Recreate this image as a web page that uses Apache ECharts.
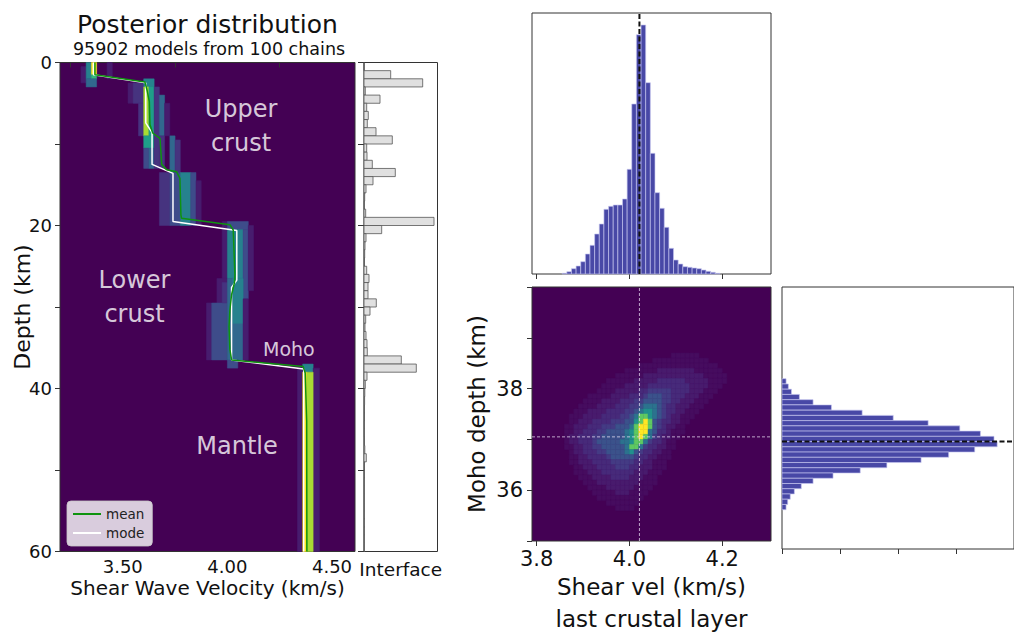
<!DOCTYPE html>
<html><head><meta charset="utf-8">
<script src="https://cdn.jsdelivr.net/npm/echarts@6/dist/echarts.min.js"></script>
<style>html,body{margin:0;padding:0;background:#fff}#chart{width:1014px;height:636px}</style>
</head><body><div id="chart"></div>
<script>
// ================= DATA =================
// Posterior density of shear-wave velocity vs depth, cells:
// [velMin, velMax, depthTop, depthBottom, densityLevel 0-9]
const posteriorCells = [
  [3.300,3.325,0.5,2.5,1],[3.325,3.350,0.0,2.0,5],[3.350,3.375,0.0,1.5,9],[3.350,3.375,1.5,2.0,7],
  [3.325,3.375,2.0,3.0,4],[3.425,3.450,0.0,2.0,1],
  [3.525,3.600,2.5,5.0,1],[3.550,3.600,2.5,5.0,2],[3.575,3.600,5.0,9.0,2],[3.600,3.650,2.0,3.0,5],
  [3.600,3.625,3.0,9.0,8],[3.625,3.650,3.0,9.0,6],[3.600,3.650,9.0,10.5,6],[3.600,3.625,10.5,13.0,3],
  [3.625,3.650,10.5,13.0,4],[3.650,3.675,3.0,13.0,2],[3.675,3.700,4.0,9.0,4],[3.675,3.700,9.0,13.0,2],
  [3.700,3.725,5.0,9.0,1],
  [3.725,3.750,9.0,13.5,4],[3.750,3.775,9.5,13.5,2],[3.675,3.725,13.5,20.0,2],[3.725,3.775,13.5,20.0,3],
  [3.775,3.825,13.5,20.0,5],[3.825,3.850,13.5,20.0,3],[3.850,3.875,14.5,20.0,1],
  [3.975,4.000,19.5,27.0,1],[4.000,4.100,19.5,20.5,3],[4.000,4.075,20.5,26.5,5],[4.075,4.100,20.5,29.0,3],
  [4.100,4.125,20.0,28.0,1],[3.950,4.000,26.5,29.5,1],[3.900,3.925,29.5,36.5,1],[3.925,4.000,29.5,36.5,3],
  [3.975,4.000,27.0,29.5,2],[4.000,4.075,26.5,36.5,4],[4.025,4.075,26.5,32.0,5],[4.075,4.100,29.0,36.5,1],
  [4.000,4.050,36.5,37.5,3],
  [4.360,4.410,37.0,38.0,5],[4.335,4.360,37.5,60.0,1],[4.410,4.440,37.5,60.0,1],
  [4.360,4.380,38.0,60.0,9],[4.380,4.410,38.0,60.0,8]
];
// Mode model (white) and mean model (green)
const modeVel   = [3.36, 3.36, 3.61, 3.61, 3.64, 3.64, 3.74, 3.74, 4.045, 4.045, 4.02, 4.02, 4.365, 4.365];
const modeDepth = [0, 1.5, 2.5, 7.4, 8.6, 12.5, 13.6, 19.5, 20.6, 26.7, 27.6, 36.5, 37.6, 60];
const meanVel   = [3.367, 3.367, 3.606, 3.617, 3.627, 3.630, 3.643, 3.678, 3.686, 3.710, 3.757, 3.773, 3.778, 3.781,
                   4.012, 4.028, 4.036, 4.034, 4.020, 4.012, 4.008, 4.012, 4.020, 4.362, 4.372, 4.379, 4.380];
const meanDepth = [0, 1.5, 2.4, 3.5, 4.8, 7.6, 8.65, 9.3, 12.5, 13.15, 13.4, 14.2, 18.7, 19.1,
                   19.9, 20.55, 26.0, 27.0, 28.5, 30.4, 32.4, 35.2, 36.5, 37.3, 38.1, 44, 60];
// Interface histogram, 1-km depth bins (0-1, 1-2, ... 59-60)
const interfaceCounts = [0, 26.7, 58.7, 1.3, 16, 2.7, 4.3, 3.3, 12, 28.3,
                         2.7, 3, 8.3, 31.3, 9, 2, 0.7, 0.3, 1.7, 70,
                         17.7, 2, 1, 0.7, 0.5, 2.7, 5, 4, 4, 12.3,
                         6, 1.7, 1, 2, 3, 3.3, 37.3, 52.3, 3, 1.3,
                         0.8, 0.6, 0.5, 0.5, 0.4, 0.4, 0.5, 0.8, 2.3, 0.5,
                         0.4, 0.3, 0.3, 0.3, 0.3, 0.3, 0.3, 0.3, 0.3, 0.3];
// Velocity of last crustal layer histogram (bin centres, 0.01 km/s bins)
const velBins = [3.86,3.87,3.88,3.89,3.90,3.91,3.92,3.93,3.94,3.95,3.96,3.97,3.98,3.99,4.00,4.01,4.02,
                 4.03,4.04,4.05,4.06,4.07,4.08,4.09,4.10,4.11,4.12,4.13,4.14,4.15,4.16,4.17,4.18,4.19];
const velCounts = [0.7,2.3,5.3,8,12.3,20,28.7,40,50,64.7,67.7,69,69,75,104.7,170,239.3,
                   249,191.3,120.7,81.3,65.7,46.7,25.7,14,10,7.3,6.7,6,5.3,4,2.7,1.7,0.7];
const velBinWidth = 0.01;
// Moho depth histogram (bin centres, 0.1 km bins)
const mohoBins = [38.2,38.1,38.0,37.9,37.8,37.7,37.6,37.5,37.4,37.3,37.2,37.1,37.0,
                  36.9,36.8,36.7,36.6,36.5,36.4,36.3,36.2,36.1,36.0,35.9,35.8];
const mohoCounts = [4.3,6.7,10,18.3,32.7,52,84.3,117,153.7,187,208.7,223,226.3,
                    202.7,175.3,146.3,110.3,82.3,53.7,32.7,20.3,13,8.7,6,4.3];
const mohoBinHeight = 0.1;
// Reference (dashed) values
const refVel = 4.0215;
const refMoho = 37.05;
// Joint density (velocity vs Moho depth): rows of 0.1 km from 38.7 km downward,
// columns of 0.01 km/s from 3.85 km/s; runs [level, firstColumn, lastColumn]
const jointVelStart = 3.85, jointVelStep = 0.01, jointDepthTop = 38.7, jointDepthStep = 0.1;
const jointRuns = [
 [[1,24,29]],
 [[1,20,31]],
 [[1,17,33]],
 [[1,14,34],[2,21,28]],
 [[1,12,35],[2,18,30]],
 [[1,10,35],[2,16,31],[3,21,26]],
 [[1,9,34],[2,14,31],[3,19,27]],
 [[1,8,33],[2,12,30],[3,17,27],[4,19,23]],
 [[1,6,32],[2,11,29],[3,15,26],[4,18,23],[5,19,21]],
 [[1,5,31],[2,9,28],[3,13,25],[4,16,23],[5,18,21]],
 [[1,4,30],[2,8,27],[3,12,24],[4,15,22],[5,17,21],[6,18,20]],
 [[1,3,29],[2,6,26],[3,10,24],[4,14,22],[5,16,21],[6,17,20],[7,18,19]],
 [[1,2,28],[2,5,25],[3,9,23],[4,13,22],[5,15,21],[6,16,20],[7,17,19],[8,17,18]],
 [[1,2,27],[2,4,25],[3,7,23],[4,11,21],[5,14,20],[6,16,19],[7,16,19],[8,17,19],[9,18,18]],
 [[1,1,26],[2,3,24],[3,6,22],[4,9,21],[5,12,20],[6,15,19],[7,16,19],[8,16,19],[9,17,18]],
 [[1,1,26],[2,3,23],[3,5,22],[4,8,20],[5,10,20],[6,14,19],[7,15,18],[8,16,18],[9,17,18]],
 [[1,1,25],[2,2,23],[3,4,21],[4,7,20],[5,9,19],[6,14,19],[7,15,18],[8,16,18],[9,17,17]],
 [[1,1,24],[2,2,22],[3,4,21],[4,7,19],[5,8,18],[6,13,18],[7,15,17],[8,16,17]],
 [[1,1,24],[2,3,22],[3,5,20],[4,7,18],[5,9,17],[6,14,17],[7,15,16],[8,15,16]],
 [[1,2,23],[2,3,21],[3,5,19],[4,8,17],[5,10,16],[6,14,15],[7,15,15]],
 [[1,2,23],[2,4,20],[3,6,18],[4,10,16],[5,11,15]],
 [[1,2,22],[2,4,19],[3,7,17],[4,11,15]],
 [[1,3,22],[2,5,19],[3,8,16],[4,12,14]],
 [[1,3,21],[2,6,18],[3,9,15]],
 [[1,4,20],[2,7,17],[3,11,14]],
 [[1,5,20],[2,8,16]],
 [[1,6,19],[2,10,15]],
 [[1,7,18],[2,12,14]],
 [[1,8,17]],
 [[1,10,16]],
 [[1,12,15]]
];
// Tick labels
const velTickLabels = [3.5, 4.0, 4.5];
const velMinorTicks = [3.25, 3.75, 4.25];
const jointVelTicks = [3.8, 4.0, 4.2];

// ================= BUILD =================
const FONT = 'DejaVu Sans';
const palette = ['#440154','#471c6e','#46337f','#3e4c8a','#31688e','#26828e','#1f9e89','#35b779','#a8db34','#fde725'];
const jointPalette = ['#440154','#460c5f','#481b6d','#472a7a','#443b84','#3b528b','#2c728e','#21918c','#5ec962','#fde725'];

const jointCells = [];
jointRuns.forEach((runs, i) => {
  const row = {};
  runs.forEach(([lvl, a, b]) => { for (let j = a; j <= b; j++) row[j] = lvl; });
  Object.keys(row).forEach(k => {
    const j = +k;
    const v0 = jointVelStart + j * jointVelStep;
    const d0 = jointDepthTop - i * jointDepthStep;
    jointCells.push([v0, v0 + jointVelStep, d0, d0 - jointDepthStep, row[k]]);
  });
});

function rectShape(a, b) {
  return { x: Math.min(a[0], b[0]), y: Math.min(a[1], b[1]), width: Math.abs(b[0] - a[0]), height: Math.abs(b[1] - a[1]) };
}
function makeCellItem(pal) {
  return function (params, api) {
    const a = api.coord([api.value(0), api.value(2)]);
    const b = api.coord([api.value(1), api.value(3)]);
    const c = pal[api.value(4)];
    return { type: 'rect', shape: rectShape(a, b), style: { fill: c, stroke: c, lineWidth: 0.5 } };
  };
}
const histFill = '#4848a6', histEdge = 'rgba(200,200,240,0.9)';

const tickStyle = { lineStyle: { color: '#333', width: 1 } };
const noAxis = { axisLine: { show: false }, axisTick: { show: false }, axisLabel: { show: false }, splitLine: { show: false } };

const option = {
  animation: false,
  backgroundColor: '#ffffff',
  textStyle: { fontFamily: FONT },
  graphic: [
    { type: 'text', x: 207.5, y: 24, style: { text: 'Posterior distribution', fontFamily: FONT, fontSize: 25, fill: '#111', align: 'center', verticalAlign: 'middle' } },
    { type: 'text', x: 209, y: 48.5, style: { text: '95902 models from 100 chains', fontFamily: FONT, fontSize: 17.5, fill: '#111', align: 'center', verticalAlign: 'middle' } }
  ],
  legend: {
    data: ['mean', 'mode'], left: 67, top: 501, orient: 'vertical',
    backgroundColor: 'rgba(255,255,255,0.8)', borderColor: 'rgba(200,200,200,0.8)', borderWidth: 1, borderRadius: 4,
    padding: [6, 8, 6, 6], itemGap: 5, itemWidth: 28, itemHeight: 2, itemTextGap: 9, icon: 'rect',
    textStyle: { fontFamily: FONT, fontSize: 13.5, color: '#222' }, selectedMode: false
  },
  grid: [
    { left: 60, top: 62.5, width: 295, height: 489, show: true, backgroundColor: '#440154', borderColor: '#333', borderWidth: 1 },
    { left: 364, top: 62.5, width: 73.5, height: 489, show: true, backgroundColor: '#fff', borderColor: '#333', borderWidth: 1 },
    { left: 532, top: 13, width: 239, height: 261, show: true, backgroundColor: '#fff', borderColor: '#333', borderWidth: 1 },
    { left: 532, top: 287, width: 239, height: 261, show: true, backgroundColor: '#440154', borderColor: '#333', borderWidth: 1 },
    { left: 782, top: 287, width: 244, height: 262, show: true, backgroundColor: '#fff', borderColor: '#333', borderWidth: 1 }
  ],
  xAxis: [
    { gridIndex: 0, type: 'value', min: 3.2, max: 4.61, axisLine: { show: false }, splitLine: { show: false },
      axisTick: Object.assign({ show: true, length: 5, customValues: velMinorTicks }, tickStyle),
      axisLabel: { customValues: velTickLabels, formatter: v => (+v).toFixed(2), fontSize: 18, color: '#111', margin: 6, fontFamily: FONT },
      name: 'Shear Wave Velocity (km/s)', nameLocation: 'middle', nameGap: 26, nameMoveOverlap: false,
      nameTextStyle: { fontSize: 20, color: '#111', fontFamily: FONT } },
    Object.assign({ gridIndex: 1, type: 'value', min: 0, max: 73.5, name: 'Interface', nameLocation: 'middle', nameGap: 8, nameMoveOverlap: false,
      nameTextStyle: { fontSize: 18.5, color: '#111', fontFamily: FONT } }, noAxis),
    { gridIndex: 2, type: 'value', min: 3.79, max: 4.305, axisLine: { show: false }, splitLine: { show: false },
      axisTick: Object.assign({ show: true, length: 5, customValues: jointVelTicks }, tickStyle), axisLabel: { show: false } },
    { gridIndex: 3, type: 'value', min: 3.79, max: 4.305, axisLine: { show: false }, splitLine: { show: false },
      axisTick: Object.assign({ show: true, length: 5, customValues: jointVelTicks }, tickStyle),
      axisLabel: { customValues: jointVelTicks, formatter: v => (+v).toFixed(1), fontSize: 21, color: '#111', margin: 7, fontFamily: FONT },
      name: 'Shear vel (km/s)\nlast crustal layer', nameLocation: 'middle', nameGap: 30, nameMoveOverlap: false,
      nameTextStyle: { fontSize: 23, lineHeight: 32, color: '#111', fontFamily: FONT } },
    { gridIndex: 4, type: 'value', min: 0, max: 244, interval: 61, axisLine: { show: false }, splitLine: { show: false },
      axisTick: Object.assign({ show: true, length: 5 }, tickStyle), axisLabel: { show: false } }
  ],
  yAxis: [
    { gridIndex: 0, type: 'value', inverse: true, min: 0, max: 60, interval: 10, axisLine: { show: false }, splitLine: { show: false },
      axisTick: Object.assign({ show: true, length: 5 }, tickStyle),
      axisLabel: { formatter: v => (v % 20 === 0 ? String(v) : ''), fontSize: 18, color: '#111', margin: 8, fontFamily: FONT },
      name: 'Depth (km)', nameLocation: 'middle', nameRotate: 90, nameGap: 27, nameMoveOverlap: false,
      nameTextStyle: { fontSize: 22, color: '#111', fontFamily: FONT } },
    { gridIndex: 1, type: 'value', inverse: true, min: 0, max: 60, interval: 10, axisLine: { show: false }, splitLine: { show: false },
      axisTick: Object.assign({ show: true, length: 6 }, tickStyle), axisLabel: { show: false } },
    Object.assign({ gridIndex: 2, type: 'value', min: 0, max: 261 }, noAxis),
    { gridIndex: 3, type: 'value', min: 35, max: 40, interval: 1, axisLine: { show: false }, splitLine: { show: false },
      axisTick: Object.assign({ show: true, length: 5 }, tickStyle),
      axisLabel: { formatter: v => (v === 36 || v === 38 ? String(v) : ''), fontSize: 21, color: '#111', margin: 9, fontFamily: FONT },
      name: 'Moho depth (km)', nameLocation: 'middle', nameRotate: 90, nameGap: 44, nameMoveOverlap: false,
      nameTextStyle: { fontSize: 23, color: '#111', fontFamily: FONT } },
    Object.assign({ gridIndex: 4, type: 'value', min: 35, max: 40 }, noAxis)
  ],
  series: [
    { type: 'custom', name: 'posterior', xAxisIndex: 0, yAxisIndex: 0, renderItem: makeCellItem(palette),
      encode: { x: [0, 1], y: [2, 3] }, data: posteriorCells, silent: true, z: 1 },
    { type: 'line', name: 'mode', xAxisIndex: 0, yAxisIndex: 0, symbol: 'none', silent: true, z: 3,
      lineStyle: { color: '#ffffff', width: 1.5 }, itemStyle: { color: '#ffffff' },
      data: modeVel.map((v, i) => [v, modeDepth[i]]) },
    { type: 'line', name: 'mean', xAxisIndex: 0, yAxisIndex: 0, symbol: 'none', silent: true, z: 4,
      lineStyle: { color: '#0f930f', width: 1.5 }, itemStyle: { color: '#0f930f' },
      data: meanVel.map((v, i) => [v, meanDepth[i]]) },
    { type: 'scatter', name: 'labels', xAxisIndex: 0, yAxisIndex: 0, symbolSize: 0, silent: true, z: 5,
      label: { show: true, position: 'inside', formatter: '{b}', color: '#fff', fontFamily: FONT, fontSize: 24, lineHeight: 34 },
      data: [
        { name: 'Upper\ncrust', value: [4.065, 7.75] },
        { name: 'Lower\ncrust', value: [3.556, 28.8] },
        { name: 'Moho', value: [4.294, 35.2], label: { fontSize: 19 } },
        { name: 'Mantle', value: [4.046, 47.1] }
      ] },
    { type: 'custom', name: 'interface', xAxisIndex: 1, yAxisIndex: 1, silent: true,
      encode: { x: 1, y: 0 },
      data: interfaceCounts.map((c, i) => [i, c]),
      renderItem: (p, api) => ({ type: 'rect',
        shape: rectShape(api.coord([0, api.value(0)]), api.coord([api.value(1), api.value(0) + 1])),
        style: { fill: '#e0e0e0', stroke: '#555', lineWidth: 0.8 } }) },
    { type: 'custom', name: 'velhist', xAxisIndex: 2, yAxisIndex: 2, silent: true,
      encode: { x: 0, y: 1 },
      data: velBins.map((b, i) => [b, velCounts[i]]),
      renderItem: (p, api) => ({ type: 'rect',
        shape: rectShape(api.coord([api.value(0) - velBinWidth / 2, 0]), api.coord([api.value(0) + velBinWidth / 2, api.value(1)])),
        style: { fill: histFill, stroke: histEdge, lineWidth: 0.7 } }) },
    { type: 'line', name: 'velref', xAxisIndex: 2, yAxisIndex: 2, symbol: 'none', silent: true, z: 5,
      lineStyle: { color: '#111', width: 2, type: [5, 2.5] }, data: [[refVel, 0], [refVel, 261]] },
    { type: 'custom', name: 'joint', xAxisIndex: 3, yAxisIndex: 3, renderItem: makeCellItem(jointPalette),
      encode: { x: [0, 1], y: [2, 3] }, data: jointCells, silent: true, z: 1 },
    { type: 'line', name: 'jv', xAxisIndex: 3, yAxisIndex: 3, symbol: 'none', silent: true, z: 5,
      lineStyle: { color: 'rgba(230,220,240,0.75)', width: 1, type: [3, 2] }, data: [[refVel, 35], [refVel, 40]] },
    { type: 'line', name: 'jh', xAxisIndex: 3, yAxisIndex: 3, symbol: 'none', silent: true, z: 5,
      lineStyle: { color: 'rgba(230,220,240,0.75)', width: 1, type: [3, 2] }, data: [[3.79, refMoho], [4.305, refMoho]] },
    { type: 'custom', name: 'mohohist', xAxisIndex: 4, yAxisIndex: 4, silent: true,
      encode: { x: 1, y: 0 },
      data: mohoBins.map((b, i) => [b, mohoCounts[i]]),
      renderItem: (p, api) => ({ type: 'rect',
        shape: rectShape(api.coord([0, api.value(0) - mohoBinHeight / 2]), api.coord([api.value(1), api.value(0) + mohoBinHeight / 2])),
        style: { fill: histFill, stroke: histEdge, lineWidth: 0.7 } }) },
    { type: 'line', name: 'mohoref', xAxisIndex: 4, yAxisIndex: 4, symbol: 'none', silent: true, z: 5,
      lineStyle: { color: '#111', width: 2, type: [5, 2.5] }, data: [[0, refMoho], [244, refMoho]] }
  ]
};

const chart = echarts.init(document.getElementById('chart'), null, { renderer: 'svg', width: 1014, height: 636 });
chart.setOption(option);
</script>
</body></html>
